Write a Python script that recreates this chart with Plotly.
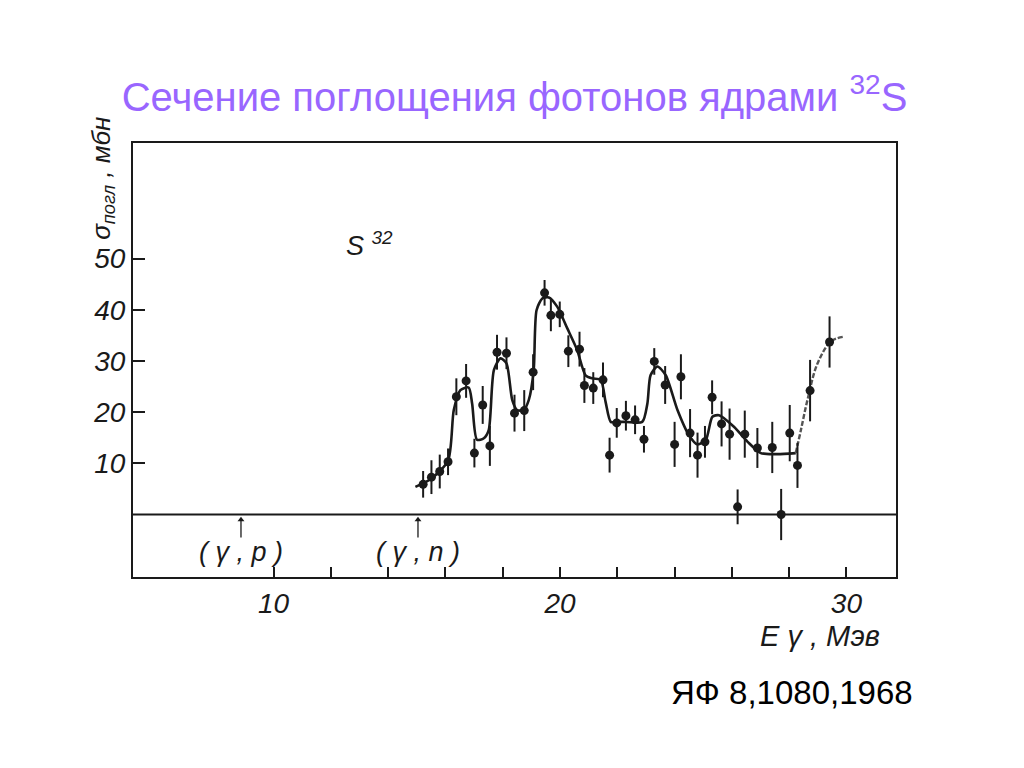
import plotly.graph_objects as go

# ---- data ----
energy_pts = [15.22, 15.51, 15.80, 16.09, 16.38, 16.72, 17.01, 17.30, 17.55, 17.80,
              18.13, 18.41, 18.75, 19.06, 19.46, 19.68, 19.99, 20.29, 20.68, 20.85,
              21.16, 21.50, 21.73, 21.98, 22.30, 22.62, 22.93, 23.29, 23.67, 24.00,
              24.22, 24.54, 24.80, 25.06, 25.31, 25.64, 25.92, 26.20, 26.45, 26.89,
              27.41, 27.72, 28.02, 28.29, 28.73, 29.41]
sigma_pts = [5.9, 7.3, 8.4, 10.3, 23.0, 26.1, 12.0, 21.4, 13.4, 31.7,
             31.5, 19.8, 20.3, 27.8, 43.3, 38.9, 39.1, 31.9, 32.3, 25.2,
             24.7, 26.3, 11.6, 17.9, 19.3, 18.5, 14.7, 29.9, 25.3, 13.7,
             26.9, 15.9, 11.6, 14.2, 22.9, 17.7, 15.7, 1.5, 15.7, 13.0,
             13.1, 0.0, 15.9, 9.6, 24.2, 33.7]
sigma_err = [2.6, 3.3, 3.3, 2.6, 3.6, 3.3, 2.8, 3.7, 3.9, 3.4,
             3.1, 3.6, 4.0, 3.5, 2.5, 3.1, 2.5, 3.1, 3.4, 3.4,
             3.1, 3.4, 3.4, 2.9, 2.9, 2.8, 2.6, 2.6, 3.7, 4.4,
             4.4, 4.7, 4.4, 3.1, 3.3, 4.4, 5.0, 3.4, 4.6, 3.9,
             5.0, 5.0, 5.5, 4.4, 6.0, 5.0]

fit_x = [14.95, 15.5, 16.09, 16.29, 16.52, 16.81, 16.93, 17.10, 17.34, 17.51,
         17.69, 17.92, 18.13, 18.33, 18.50, 18.73, 18.91, 19.08, 19.18, 19.38,
         19.61, 19.90, 20.25, 20.60, 20.89, 21.13, 21.42, 21.59, 21.77, 21.95,
         22.3, 22.87, 23.05, 23.16, 23.40, 23.69, 24.10, 24.50, 24.80, 25.09,
         25.32, 25.55, 26.08, 26.55, 27.01, 27.59, 28.23]
fit_y = [5.4, 7.0, 10.5, 20.4, 24.3, 24.8, 21.7, 14.6, 14.9, 16.5,
         28.2, 30.5, 29.5, 22.4, 20.4, 20.4, 22.4, 28.2, 39.9, 42.2,
         42.4, 40.6, 36.4, 32.1, 27.2, 26.6, 26.3, 22.0, 18.1, 18.1,
         18.1, 18.1, 21.7, 27.2, 28.9, 27.2, 20.4, 15.5, 13.7, 14.6,
         19.1, 19.4, 17.1, 14.2, 12.0, 11.8, 12.0]
tail_x = [28.23, 28.41, 28.64, 28.99, 29.46, 29.87]
tail_y = [12.0, 16.5, 22.4, 29.5, 33.8, 34.7]

x_tick_vals = [10, 20, 30]
x_tick_text = ["10", "20", "30"]
x_minor_vals = [12, 14, 16, 18, 22, 24, 26, 28]
y_tick_vals = [10, 20, 30, 40, 50]
y_tick_text = ["10", "20", "30", "40", "50"]

thresholds_x = [8.86, 15.04]
threshold_labels = ["( γ , <i>p</i> )", "( γ , <i>n</i> )"]

# ---- figure ----
ink = "#1a1a1a"
tick_font = dict(family="Liberation Sans", size=28, color=ink, style="italic")

fig = go.Figure()
fig.add_trace(go.Scatter(x=fit_x, y=fit_y, mode="lines",
                         line=dict(color=ink, width=2.6, shape="spline", smoothing=0.7),
                         hoverinfo="skip", showlegend=False))
fig.add_trace(go.Scatter(x=tail_x, y=tail_y, mode="lines",
                         line=dict(color="#555555", width=2.4, shape="spline", dash="5px,2px"),
                         hoverinfo="skip", showlegend=False))
fig.add_trace(go.Scatter(x=energy_pts, y=sigma_pts, mode="markers",
                         marker=dict(color=ink, size=9),
                         error_y=dict(type="data", array=sigma_err, color=ink,
                                      thickness=2, width=0),
                         showlegend=False))

# threshold arrows: stems and heads
for tx in thresholds_x:
    fig.add_shape(type="line", xref="x", yref="y", x0=tx, x1=tx, y0=-4.5, y1=-1.0,
                  line=dict(color=ink, width=1.3))
fig.add_trace(go.Scatter(x=thresholds_x, y=[-1.0] * len(thresholds_x), mode="markers",
                         marker=dict(symbol="triangle-up", size=6, color=ink),
                         hoverinfo="skip", showlegend=False, cliponaxis=False))

fig.update_layout(
    width=1024, height=768,
    margin=dict(l=133, r=128, t=143, b=191, pad=0),
    paper_bgcolor="white", plot_bgcolor="white",
    title=dict(text="Сечение поглощения фотонов ядрами <sup>32</sup>S",
               x=0.5, xanchor="center", xref="paper",
               y=1 - 97 / 768, yanchor="middle", yref="container",
               font=dict(family="Liberation Sans", size=40, color="#9966ff")),
    xaxis=dict(range=[5.09, 31.73], showgrid=False, zeroline=False,
               showline=True, linecolor=ink, linewidth=2, mirror=True,
               ticks="inside", ticklen=10, tickwidth=1.5, tickcolor=ink,
               tickvals=x_tick_vals, ticktext=x_tick_text, tickfont=tick_font,
               minor=dict(tickvals=x_minor_vals, ticks="inside", ticklen=10,
                          tickwidth=1.5, tickcolor=ink, showgrid=False)),
    yaxis=dict(range=[-12.2, 72.56], showgrid=False, zeroline=False,
               showline=True, linecolor=ink, linewidth=2, mirror=True,
               ticks="inside", ticklen=12, tickwidth=1.5, tickcolor=ink,
               tickvals=y_tick_vals, ticktext=y_tick_text, tickfont=tick_font),
)

# zero line across the frame
fig.add_shape(type="line", xref="paper", yref="y", x0=0, x1=1, y0=0, y1=0,
              line=dict(color=ink, width=2))

# axis titles
fig.add_annotation(xref="paper", yref="paper", x=-0.041, y=0.919,
                   xanchor="center", yanchor="middle",
                   text="σ<sub>погл</sub> , мбн", textangle=-90, showarrow=False,
                   font=dict(family="Liberation Sans", size=26, color=ink, style="italic"))
fig.add_annotation(xref="paper", yref="paper", x=(820 - 133) / 763, y=(577 - 636) / 434,
                   xanchor="center", yanchor="middle",
                   text="E γ , Мэв", showarrow=False,
                   font=dict(family="Liberation Sans", size=29, color=ink, style="italic"))

# S32 label
fig.add_annotation(xref="x", yref="y", x=13.35, y=52.8, text="S <sup>32</sup>",
                   xanchor="center", yanchor="middle", showarrow=False,
                   font=dict(family="Liberation Sans", size=27, color=ink, style="italic"))

# reaction threshold labels
for tx, tl in zip(thresholds_x, threshold_labels):
    fig.add_annotation(xref="x", yref="y", x=tx, y=-7.3, text=tl, showarrow=False,
                       xanchor="center", yanchor="middle",
                       font=dict(family="Liberation Sans", size=27, color=ink, style="italic"))

# reference
fig.add_annotation(xref="paper", yref="paper", x=(915 - 133) / 763, xanchor="right",
                   y=(577 - 692) / 434, yanchor="middle", text="ЯФ 8,1080,1968",
                   showarrow=False,
                   font=dict(family="Liberation Sans", size=33, color="black"))

fig.write_html("out.html", config={"displayModeBar": False},
               post_script="document.body.style.margin='0';document.body.style.overflow='hidden';")
